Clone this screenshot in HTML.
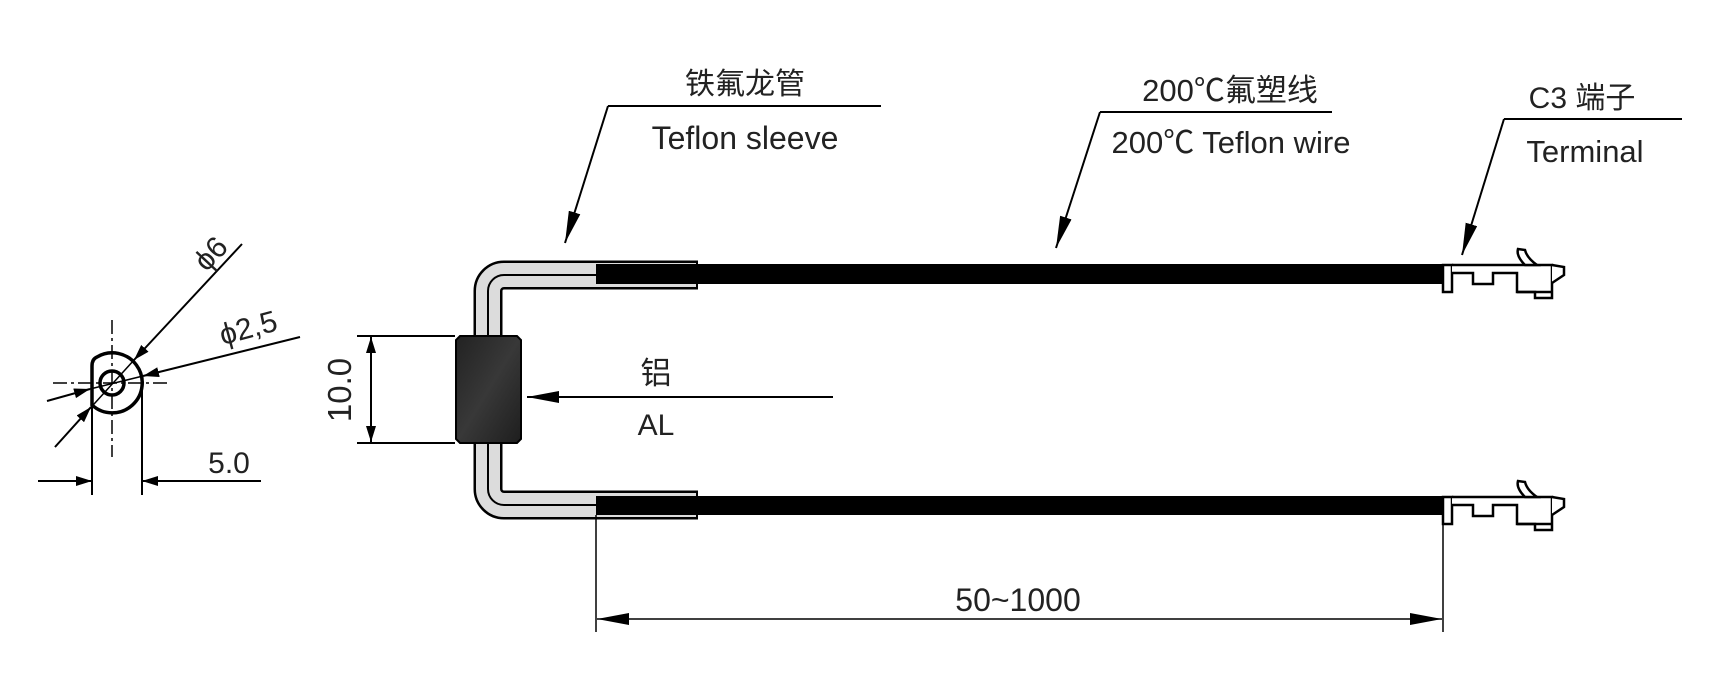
<!DOCTYPE html>
<html><head><meta charset="utf-8"><style>
html,body{margin:0;padding:0;background:#fff;}
svg{display:block;}
text{font-family:"Liberation Sans","Noto Sans CJK SC",sans-serif;fill:#222;}
</style></head><body>
<svg width="1717" height="675" viewBox="0 0 1717 675" xmlns="http://www.w3.org/2000/svg">
<defs>
<marker id="ah" viewBox="0 0 16 10" refX="16" refY="5" markerWidth="16" markerHeight="10" markerUnits="userSpaceOnUse" orient="auto"><path d="M0,0 L16,5 L0,10 Z" fill="#000"/></marker>
<marker id="ahl" viewBox="0 0 32 12" refX="32" refY="6" markerWidth="32" markerHeight="12" markerUnits="userSpaceOnUse" orient="auto"><path d="M0,0 L32,6 L0,12 Z" fill="#000"/></marker>
<linearGradient id="g" x1="0" y1="0" x2="1" y2="1"><stop offset="0" stop-color="#222"/><stop offset="0.5" stop-color="#383838"/><stop offset="1" stop-color="#1e1e1e"/></linearGradient>
</defs>

<!-- left end view -->
<g stroke="#000" fill="none">
<line x1="53" y1="383" x2="167" y2="383" stroke-width="1.5" stroke-dasharray="14,4,3,4"/>
<line x1="112" y1="320" x2="112" y2="457" stroke-width="1.5" stroke-dasharray="14,4,3,4"/>
<path d="M92,405 V366 Q92,359 97,357 A30,30 0 1 1 92,405 Z" stroke-width="3.5"/>
<circle cx="112" cy="383" r="12" stroke-width="3.5"/>
<line x1="92" y1="400" x2="92" y2="495" stroke-width="2"/>
<line x1="142" y1="390" x2="142" y2="495" stroke-width="2"/>
<!-- phi6 -->
<line x1="242" y1="244" x2="134" y2="360" stroke-width="2" marker-end="url(#ah)"/>
<line x1="134" y1="360" x2="55" y2="447" stroke-width="1.5"/>
<line x1="55" y1="447" x2="91" y2="407" stroke-width="2" marker-end="url(#ah)"/>
<!-- phi2.5 -->
<line x1="300" y1="337" x2="143" y2="376" stroke-width="2" marker-end="url(#ah)"/>
<line x1="143" y1="376" x2="90" y2="389" stroke-width="1.5"/>
<line x1="47" y1="401" x2="90" y2="389" stroke-width="2" marker-end="url(#ah)"/>
<!-- 5.0 -->
<line x1="38" y1="481" x2="92" y2="481" stroke-width="2" marker-end="url(#ah)"/>
<line x1="261" y1="481" x2="142" y2="481" stroke-width="2" marker-end="url(#ah)"/>
</g>
<text x="210" y="264" font-size="30" text-anchor="middle" transform="rotate(-47 210 253)">ϕ6</text>
<text x="248" y="338" font-size="30" text-anchor="middle" transform="rotate(-15 248 327)">ϕ2,5</text>
<text x="229" y="473" font-size="30" text-anchor="middle">5.0</text>

<!-- 10.0 dim -->
<g stroke="#000" stroke-width="2">
<line x1="357" y1="336" x2="455" y2="336"/>
<line x1="357" y1="443" x2="455" y2="443"/>
<line x1="371" y1="390" x2="371" y2="337" marker-end="url(#ah)"/>
<line x1="371" y1="390" x2="371" y2="442" marker-end="url(#ah)"/>
</g>
<text x="363" y="390" font-size="33" text-anchor="middle" transform="rotate(-90 351 390) translate(-12 0)">10.0</text>

<!-- sleeve -->
<path d="M697,275 H504 A16,16 0 0 0 488,291 V489 A16,16 0 0 0 504,505 H697" fill="none" stroke="#000" stroke-width="29"/>
<path d="M697,275 H504 A16,16 0 0 0 488,291 V489 A16,16 0 0 0 504,505 H697" fill="none" stroke="#dcdcdc" stroke-width="24"/>
<path d="M697,275 H504 A16,16 0 0 0 488,291 V489 A16,16 0 0 0 504,505 H697" fill="none" stroke="#000" stroke-width="2"/>
<line x1="697" y1="260.5" x2="697" y2="289.5" stroke="#000" stroke-width="2"/>
<line x1="697" y1="490.5" x2="697" y2="519.5" stroke="#000" stroke-width="2"/>
<!-- wires -->
<rect x="596" y="264" width="847" height="20" fill="#000"/>
<rect x="596" y="496" width="847" height="19" fill="#000"/>
<!-- AL block -->
<path d="M460,336 H517 L521,340 V439 L517,443 H460 L456,439 V340 Z" fill="url(#g)" stroke="#000" stroke-width="2"/>

<!-- terminals -->
<g id="term" fill="#fff" stroke="#000" stroke-width="2.5">
<rect x="1443" y="265" width="9" height="27"/>
<path d="M1452,265 H1552 V298 H1535 V292 H1517 V273 H1493 V284 H1473 V273 H1452"/>
<line x1="1517" y1="292" x2="1552" y2="292"/>
<path d="M1552,265 L1564,267 V275 L1552,283"/>
<path d="M1518,249 Q1516,256 1525,265 L1537,265 Q1527,258 1525,250 Z" fill="#fff"/>
</g>
<use href="#term" transform="translate(0 232)"/>

<!-- 50~1000 dim -->
<g stroke="#000" stroke-width="1.5">
<line x1="596" y1="515" x2="596" y2="632"/>
<line x1="1443" y1="515" x2="1443" y2="632"/>
<line x1="1000" y1="619" x2="597" y2="619" marker-end="url(#ahl)"/>
<line x1="1000" y1="619" x2="1442" y2="619" marker-end="url(#ahl)"/>
</g>
<text x="1018" y="611" font-size="32" text-anchor="middle">50~1000</text>

<!-- AL arrow -->
<line x1="833" y1="397" x2="527" y2="397" stroke="#000" stroke-width="2" marker-end="url(#ahl)"/>
<text x="656" y="384" font-size="31" text-anchor="middle">铝</text>
<text x="656" y="435" font-size="30" text-anchor="middle">AL</text>

<!-- leaders -->
<g stroke="#000" stroke-width="2" fill="none">
<line x1="881" y1="106" x2="608" y2="106"/>
<line x1="608" y1="106" x2="565" y2="243" marker-end="url(#ahl)"/>
<line x1="1332" y1="112" x2="1100" y2="112"/>
<line x1="1100" y1="112" x2="1056" y2="248" marker-end="url(#ahl)"/>
<line x1="1682" y1="119" x2="1504" y2="119"/>
<line x1="1504" y1="119" x2="1462" y2="255" marker-end="url(#ahl)"/>
</g>
<text x="745" y="94" font-size="30" text-anchor="middle">铁氟龙管</text>
<text x="745" y="149" font-size="32" text-anchor="middle">Teflon sleeve</text>
<text x="1230" y="101" font-size="31" text-anchor="middle">200℃氟塑线</text>
<text x="1231" y="153" font-size="31" text-anchor="middle">200℃ Teflon wire</text>
<text x="1582" y="108" font-size="30" text-anchor="middle">C3 端子</text>
<text x="1585" y="162" font-size="31" text-anchor="middle">Terminal</text>
</svg>
</body></html>
